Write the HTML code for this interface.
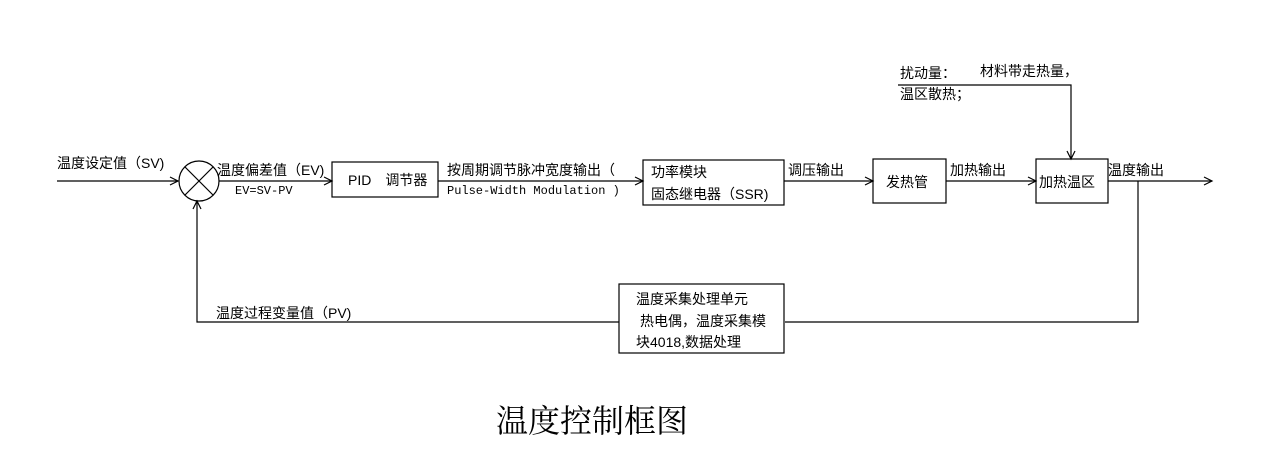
<!DOCTYPE html>
<html><head><meta charset="utf-8"><style>
body{margin:0;background:#fff;}
svg{display:block}
text{font-family:"Liberation Sans","Noto Sans CJK SC",sans-serif;font-size:14px;fill:#000}
.m{font-family:"Liberation Mono","Noto Sans CJK SC",monospace;font-size:12px}
</style></head><body>
<svg width="1268" height="460" viewBox="0 0 1268 460" xmlns="http://www.w3.org/2000/svg">
<g stroke="#000" stroke-width="1.2" fill="none">
<line x1="57" y1="181" x2="178" y2="181"/>
<path d="M170 177 L178 181 L170 185"/>
<circle cx="199" cy="181" r="20"/>
<line x1="185" y1="167" x2="213" y2="195"/><line x1="213" y1="167" x2="185" y2="195"/>
<line x1="219" y1="181" x2="332" y2="181"/>
<path d="M324 177 L332 181 L324 185"/>
<rect x="332" y="162" width="106" height="35"/>
<line x1="438" y1="181" x2="643" y2="181"/>
<path d="M635 177 L643 181 L635 185"/>
<rect x="643" y="160" width="141" height="45"/>
<line x1="784" y1="181" x2="873" y2="181"/>
<path d="M865 177 L873 181 L865 185"/>
<rect x="873" y="159" width="73" height="44"/>
<line x1="946" y1="181" x2="1036" y2="181"/>
<path d="M1028 177 L1036 181 L1028 185"/>
<rect x="1036" y="159" width="72" height="44"/>
<line x1="1108" y1="181" x2="1212" y2="181"/>
<path d="M1204 177 L1212 181 L1204 185"/>
<polyline points="898,85 1071,85 1071,159"/>
<path d="M1067 151 L1071 159 L1075 151"/>
<polyline points="1138,181 1138,322 785,322"/>
<rect x="619" y="284" width="165" height="69"/>
<polyline points="619,322 197,322 197,201"/>
<path d="M193 209 L197 201 L201 209"/>
</g>
<text x="57" y="168">温度设定值（SV)</text>
<text x="217" y="175">温度偏差值（EV)</text>
<text x="235" y="194" class="m">EV=SV-PV</text>
<text x="348" y="185">PID　调节器</text>
<text x="447" y="175">按周期调节脉冲宽度输出（</text>
<text x="447" y="194" class="m">Pulse-Width Modulation )</text>
<text x="651" y="177">功率模块</text>
<text x="651" y="199">固态继电器（SSR)</text>
<text x="788" y="175">调压输出</text>
<text x="886" y="187">发热管</text>
<text x="950" y="175">加热输出</text>
<text x="1039" y="187">加热温区</text>
<text x="1108" y="175">温度输出</text>
<text x="900" y="78">扰动量：</text>
<text x="980" y="76">材料带走热量，</text>
<text x="900" y="99">温区散热；</text>
<text x="216" y="318">温度过程变量值（PV)</text>
<text x="636" y="304">温度采集处理单元</text>
<text x="640" y="326">热电偶，温度采集模</text>
<text x="636" y="347">块4018,数据处理</text>
<text x="496" y="432" style="font-family:'Liberation Serif','Noto Serif CJK SC',serif;font-size:32px">温度控制框图</text>
</svg>
</body></html>
